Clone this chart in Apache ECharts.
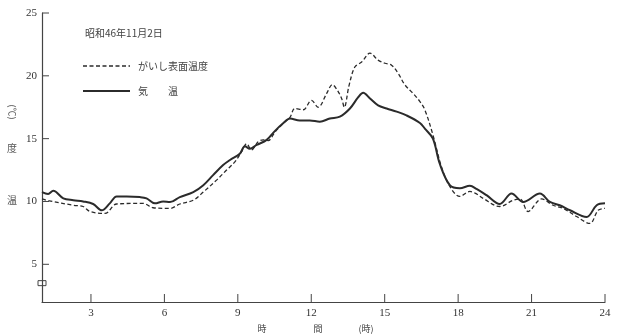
<!DOCTYPE html>
<html><head><meta charset="utf-8">
<script src="https://cdn.jsdelivr.net/npm/echarts@6/dist/echarts.min.js"></script>
<style>html,body{margin:0;padding:0;background:#fff}#c{width:617px;height:336px}</style>
</head><body><div id="c"></div>
<script>
// 気温 (air temperature)
const airHours = [1.0,1.25,1.46,1.87,2.28,2.68,3.09,3.44,3.77,4.05,4.46,5.0,5.27,5.61,5.95,6.23,6.63,7.18,7.59,7.99,8.4,8.68,9.08,9.29,9.49,9.77,10.18,10.51,10.84,11.13,11.53,11.94,12.35,12.76,13.17,13.58,13.92,14.12,14.4,14.73,15.08,15.49,15.89,16.44,16.64,16.97,17.25,17.66,18.07,18.48,18.75,19.16,19.7,20.18,20.66,21.34,21.75,22.15,22.57,23.25,23.66,24.0];
const airTemp  = [10.75,10.6,10.85,10.25,10.1,10.0,9.8,9.3,9.85,10.4,10.4,10.35,10.25,9.85,10.0,9.95,10.35,10.75,11.3,12.1,12.9,13.3,13.8,14.4,14.2,14.5,14.9,15.6,16.2,16.6,16.45,16.45,16.35,16.6,16.75,17.4,18.3,18.65,18.2,17.65,17.4,17.15,16.85,16.25,15.8,15.0,13.0,11.3,11.05,11.25,11.0,10.5,9.8,10.63,9.96,10.63,9.96,9.7,9.3,8.77,9.7,9.85];
// がいし表面温度 (insulator surface temperature)
const surfHours = [1.0,1.3,2.28,2.68,2.96,3.57,4.05,5.13,5.54,6.23,6.63,7.18,7.59,8.13,8.54,8.88,9.15,9.36,9.56,9.83,10.04,10.24,10.51,10.84,11.13,11.33,11.67,12.01,12.28,12.63,12.86,13.05,13.24,13.35,13.54,13.78,14.06,14.4,14.73,15.01,15.28,15.55,15.82,16.16,16.44,16.64,16.97,17.32,17.66,18.07,18.48,18.75,19.02,19.7,20.25,20.53,20.86,21.41,21.88,22.29,22.84,23.38,23.72,24.0];
const surfTemp  = [10.2,10.05,9.7,9.6,9.2,9.05,9.8,9.85,9.5,9.45,9.8,10.1,10.75,11.7,12.5,13.15,13.95,14.6,14.1,14.75,14.9,14.85,15.5,16.2,16.7,17.4,17.3,18.05,17.5,18.6,19.3,18.9,18.2,17.5,19.2,20.7,21.1,21.8,21.25,21.0,20.85,20.2,19.3,18.6,17.95,17.3,15.3,12.75,11.2,10.4,10.8,10.6,10.25,9.6,10.1,10.2,9.2,10.2,9.7,9.45,8.8,8.25,9.3,9.45];
const xTicks = [3,6,9,12,15,18,21,24];
const yTicks = [5,10,15,20,25];
const dateText = '昭和46年11月2日';
const surfName = 'がいし表面温度';
const airName = '気　　温';

const ink = '#2b2b2b';
const axisInk = '#444';
const jp = 'Noto Sans CJK JP';
const chart = echarts.init(document.getElementById('c'));
chart.setOption({
  backgroundColor:'#fff',
  animation:false,
  grid:{left:42,right:12,top:13,bottom:34},
  xAxis:{type:'value',min:1,max:24,
    axisLine:{lineStyle:{color:axisInk,width:1.2}},
    axisTick:{show:false},
    axisLabel:{customValues:xTicks,margin:6,fontSize:11,color:'#333',fontFamily:'Liberation Serif'},
    splitLine:{show:false}},
  yAxis:{type:'value',min:2,max:25,
    axisLine:{show:true,lineStyle:{color:axisInk,width:1.2}},
    axisTick:{show:false},
    axisLabel:{customValues:yTicks,margin:5,fontSize:11,color:'#333',fontFamily:'Liberation Serif'},
    splitLine:{show:false}},
  series:[
    {name:surfName,type:'line',symbol:'none',smooth:0.35,
      lineStyle:{color:ink,width:1.3,type:[4,2.5]},
      data:surfHours.map((h,i)=>[h,surfTemp[i]])},
    {name:airName,type:'line',symbol:'none',smooth:0.35,
      lineStyle:{color:ink,width:2},
      data:airHours.map((h,i)=>[h,airTemp[i]])}
  ]
});
const x0 = chart.convertToPixel({xAxisIndex:0},1);
const y0 = chart.convertToPixel({yAxisIndex:0},2);
const g = [];
xTicks.forEach(v=>{const p=chart.convertToPixel({xAxisIndex:0},v);
  g.push({type:'line',shape:{x1:p,y1:y0,x2:p,y2:y0-8},style:{stroke:axisInk,lineWidth:1}});});
yTicks.forEach(v=>{const p=chart.convertToPixel({yAxisIndex:0},v);
  g.push({type:'line',shape:{x1:x0,y1:p,x2:x0+7,y2:p},style:{stroke:axisInk,lineWidth:1}});});
const by = chart.convertToPixel({yAxisIndex:0},3.5);
g.push({type:'rect',shape:{x:x0-4,y:by-2.5,width:8,height:5},style:{fill:'#fff',stroke:axisInk,lineWidth:1}});
// legend (drawn manually)
g.push({type:'text',x:85,y:33,style:{text:dateText,fontSize:10,fill:'#444',verticalAlign:'middle',fontFamily:jp}});
g.push({type:'line',shape:{x1:83,y1:66,x2:130,y2:66},style:{stroke:ink,lineWidth:1.3,lineDash:[4,2.5]}});
g.push({type:'text',x:138,y:66,style:{text:surfName,fontSize:10,fill:'#444',verticalAlign:'middle',fontFamily:jp}});
g.push({type:'line',shape:{x1:83,y1:91,x2:130,y2:91},style:{stroke:ink,lineWidth:2}});
g.push({type:'text',x:138,y:91,style:{text:airName,fontSize:10,fill:'#444',verticalAlign:'middle',fontFamily:jp}});
// axis names
g.push({type:'text',x:12,y:200,style:{text:'温',fontSize:10,fill:'#555',align:'center',verticalAlign:'middle',fontFamily:jp}});
g.push({type:'text',x:12,y:148,style:{text:'度',fontSize:10,fill:'#555',align:'center',verticalAlign:'middle',fontFamily:jp}});
g.push({type:'text',x:12,y:112,rotation:-Math.PI/2,style:{text:'(℃)',fontSize:9,fill:'#555',align:'center',verticalAlign:'middle',fontFamily:jp}});
g.push({type:'text',x:262,y:329,style:{text:'時',fontSize:9,fill:'#444',align:'center',verticalAlign:'middle',fontFamily:jp}});
g.push({type:'text',x:318,y:329,style:{text:'間',fontSize:9,fill:'#444',align:'center',verticalAlign:'middle',fontFamily:jp}});
g.push({type:'text',x:366,y:329,style:{text:'(時)',fontSize:9,fill:'#444',align:'center',verticalAlign:'middle',fontFamily:jp}});
chart.setOption({graphic:g});
</script></body></html>
